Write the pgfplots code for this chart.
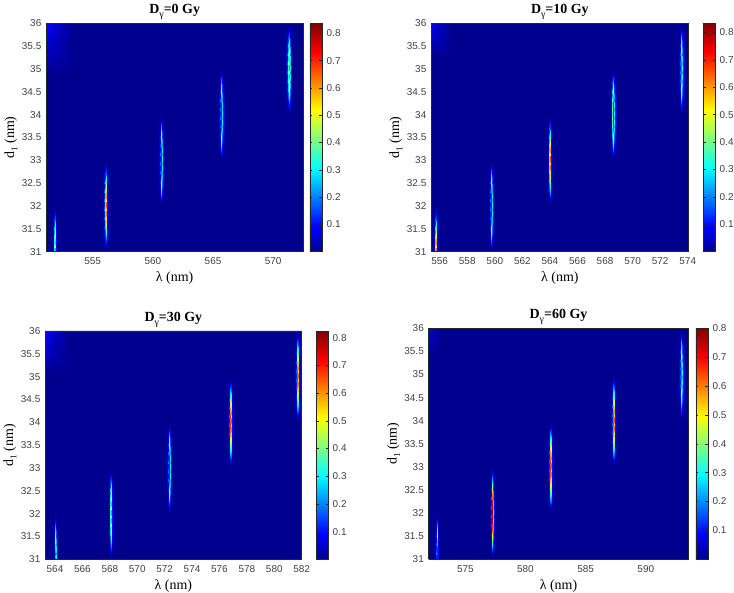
\documentclass[border=0pt]{standalone}
\usepackage{fontspec}
\setmainfont{Liberation Serif}
\newfontfamily\arial{Liberation Sans}
\usepackage{pgfplots}
\usepackage{pgfplotstable}
\pgfplotsset{compat=1.18}
\definecolor{bgblue}{rgb}{0,0,0.5625}
\definecolor{tickgray}{rgb}{0.25,0.25,0.25}
\definecolor{framegray}{rgb}{0.15,0.15,0.15}

% normalised peak profile (u: across wavelength, v: along d1, s: relative height)
\pgfplotstableread{
u v s
-1 -1 0
-0.5 -1 0
-0.25 -1 0
-0.1 -1 0
0 -1 0
0.1 -1 0
0.25 -1 0
0.5 -1 0
1 -1 0
-1 -0.9 0
-0.5 -0.9 0.011
-0.25 -0.9 0.032
-0.1 -0.9 0.066
0 -0.9 0.083
0.1 -0.9 0.066
0.25 -0.9 0.032
0.5 -0.9 0.011
1 -0.9 0
-1 -0.8 0
-0.5 -0.8 0.030
-0.25 -0.8 0.084
-0.1 -0.8 0.173
0 -0.8 0.216
0.1 -0.8 0.173
0.25 -0.8 0.084
0.5 -0.8 0.030
1 -0.8 0
-1 -0.6 0
-0.5 -0.6 0.071
-0.25 -0.6 0.200
-0.1 -0.6 0.410
0 -0.6 0.512
0.1 -0.6 0.410
0.25 -0.6 0.200
0.5 -0.6 0.071
1 -0.6 0
-1 -0.4 0
-0.5 -0.4 0.106
-0.25 -0.4 0.300
-0.1 -0.4 0.616
0 -0.4 0.770
0.1 -0.4 0.616
0.25 -0.4 0.300
0.5 -0.4 0.106
1 -0.4 0
-1 -0.2 0
-0.5 -0.2 0.130
-0.25 -0.2 0.367
-0.1 -0.2 0.753
0 -0.2 0.941
0.1 -0.2 0.753
0.25 -0.2 0.367
0.5 -0.2 0.130
1 -0.2 0
-1 0 0
-0.5 0 0.138
-0.25 0 0.390
-0.1 0 0.800
0 0 1
0.1 0 0.800
0.25 0 0.390
0.5 0 0.138
1 0 0
-1 0.2 0
-0.5 0.2 0.130
-0.25 0.2 0.367
-0.1 0.2 0.753
0 0.2 0.941
0.1 0.2 0.753
0.25 0.2 0.367
0.5 0.2 0.130
1 0.2 0
-1 0.4 0
-0.5 0.4 0.106
-0.25 0.4 0.300
-0.1 0.4 0.616
0 0.4 0.770
0.1 0.4 0.616
0.25 0.4 0.300
0.5 0.4 0.106
1 0.4 0
-1 0.6 0
-0.5 0.6 0.071
-0.25 0.6 0.200
-0.1 0.6 0.410
0 0.6 0.512
0.1 0.6 0.410
0.25 0.6 0.200
0.5 0.6 0.071
1 0.6 0
-1 0.8 0
-0.5 0.8 0.030
-0.25 0.8 0.084
-0.1 0.8 0.173
0 0.8 0.216
0.1 0.8 0.173
0.25 0.8 0.084
0.5 0.8 0.030
1 0.8 0
-1 0.9 0
-0.5 0.9 0.011
-0.25 0.9 0.032
-0.1 0.9 0.066
0 0.9 0.083
0.1 0.9 0.066
0.25 0.9 0.032
0.5 0.9 0.011
1 0.9 0
-1 1 0
-0.5 1 0
-0.25 1 0
-0.1 1 0
0 1 0
0.1 1 0
0.25 1 0
0.5 1 0
1 1 0
}\shape

% #1 wavelength of peak, #2 d1 of peak, #3 half width (nm), #4 peak height
\newcommand{\pk}[4]{\addplot3[surf, shader=interp, mesh/cols=9] table[x expr={#1+#3*\thisrow{u}}, y expr={#2+0.97*\thisrow{v}}, z expr={#4*\thisrow{s}}] {\shape};}

\pgfplotsset{
  colormap={mjet}{rgb(0cm)=(0,0,0.5625) rgb(7cm)=(0,0,1) rgb(23cm)=(0,1,1) rgb(39cm)=(1,1,0) rgb(55cm)=(1,0,0) rgb(63cm)=(0.5,0,0)},
  /pgf/number format/assume math mode=true,
  panel/.style={
    scale only axis, view={0}{90}, anchor=south west,
    colormap name=mjet,
    axis background/.style={fill=bgblue},
    axis line style={framegray, line width=0.5bp},
    ymin=31, ymax=36, ytick={31,31.5,32,32.5,33,33.5,34,34.5,35,35.5,36},
    zmin=0, zmax=1, ztick=\empty,
    scaled ticks=false,
    tick style={draw=none},
    tick label style={font=\arial\fontsize{10}{12}\selectfont, text=tickgray},
    yticklabel style={inner sep=0pt, xshift=-4.5bp},
    xticklabel style={inner sep=0pt, yshift=-6bp},
    xlabel={λ (nm)},
    ylabel={d\raisebox{-0.5ex}{\fontsize{9}{9}\selectfont 1} (nm)},
    label style={font=\fontsize{14}{16}\selectfont},
    xlabel style={at={(axis description cs:0.5,0)}, anchor=center, yshift=-26.5bp},
    ylabel style={at={([xshift=-35bp]axis description cs:0,0.5)}, anchor=center},
    title style={font=\bfseries\fontsize{14}{16}\selectfont, at={(axis description cs:0.5,1)}, anchor=base, yshift=4bp},
    point meta min=0,
    colorbar,
  },
  cbar/.style={colorbar style={
    at={(parent axis.north east)}, anchor=north west, xshift=#1,
    width=12bp,
    ytick={0.1,0.2,0.3,0.4,0.5,0.6,0.7,0.8},
    yticklabel style={inner sep=0pt, xshift=4.5bp, font=\arial\fontsize{10}{12}\selectfont, text=tickgray},
    axis line style={framegray, line width=0.5bp},
    tick style={framegray, line width=0.4bp},
    major tick length=2.5bp, tick align=inside,
  }},
}

\newcommand{\ptitle}[1]{D\raisebox{-4bp}{\fontsize{10}{10}\selectfont\mdseries γ}=#1 Gy}

\begin{document}
\begin{tikzpicture}
\path[use as bounding box] (0bp,0bp) rectangle (734bp,593bp);

% ---------------- a) 0 Gy
\begin{axis}[panel, at={(46bp,341.3bp)}, width=257.3bp, height=228.4bp,
  xmin=551.12, xmax=572.5, xtick={555,560,565,570},
  point meta max=0.837, cbar=-1.8bp,
  title={\ptitle{0}}]
\addplot3[surf, shader=interp, mesh/cols=3] coordinates {
(551.12,36,0.11) (551.8,36,0.06) (553.4,36,0)
(551.12,35.55,0.06) (551.8,35.55,0.035) (553.4,35.55,0)
(551.12,34.9,0) (551.8,34.9,0) (553.4,34.9,0)};
\pk{551.87}{31}{0.19}{0.83}
\pk{556.10}{32}{0.24}{0.83}
\pk{560.70}{33}{0.24}{0.83}
\pk{565.70}{34}{0.26}{0.83}
\pk{571.30}{35}{0.29}{0.83}
\node[font=\arial\fontsize{8.5}{10}\selectfont, text=black] at ([xshift=-34bp,yshift=-9bp]axis description cs:0,1) {a)};
\end{axis}

% ---------------- b) 10 Gy
\begin{axis}[panel, at={(431bp,341.3bp)}, width=257.7bp, height=228.4bp,
  xmin=555.37, xmax=574.07, xtick={556,558,560,562,564,566,568,570,572,574},
  point meta max=0.833, cbar=5.8bp,
  title={\ptitle{10}}]
\addplot3[surf, shader=interp, mesh/cols=3] coordinates {
(555.37,36,0.09) (555.8,36,0.05) (556.8,36,0)
(555.37,35.65,0.05) (555.8,35.65,0.03) (556.8,35.65,0)
(555.37,35.3,0) (555.8,35.3,0) (556.8,35.3,0)};
\pk{555.73}{31}{0.20}{0.83}
\pk{559.75}{32}{0.20}{0.83}
\pk{564.00}{33}{0.20}{0.83}
\pk{568.60}{34}{0.24}{0.83}
\pk{573.55}{35}{0.27}{0.83}
\node[font=\arial\fontsize{8.5}{10}\selectfont, text=black] at ([xshift=-35bp,yshift=-9bp]axis description cs:0,1) {b)};
\end{axis}

% ---------------- c) 30 Gy
\begin{axis}[panel, at={(45bp,33.7bp)}, width=256.7bp, height=228.3bp,
  xmin=563.27, xmax=582.0, xtick={564,566,568,570,572,574,576,578,580,582},
  point meta max=0.824, cbar=5.8bp,
  title={\ptitle{30}}]
\addplot3[surf, shader=interp, mesh/cols=3] coordinates {
(563.27,36,0.09) (563.8,36,0.05) (565.0,36,0)
(563.27,35.55,0.05) (563.8,35.55,0.03) (565.0,35.55,0)
(563.27,35.1,0) (563.8,35.1,0) (565.0,35.1,0)};
\pk{564.05}{31}{0.16}{0.82}
\pk{568.09}{32}{0.20}{0.82}
\pk{572.35}{33}{0.22}{0.82}
\pk{576.82}{34}{0.24}{0.82}
\pk{581.71}{35}{0.24}{0.82}
\node[font=\arial\fontsize{8.5}{10}\selectfont, text=black] at ([xshift=-35bp,yshift=-9bp]axis description cs:0,1) {c)};
\end{axis}

% ---------------- d) 60 Gy
\begin{axis}[panel, at={(428.5bp,33.7bp)}, width=260bp, height=231bp,
  xmin=571.94, xmax=593.55, xtick={575,580,585,590},
  point meta max=0.80, cbar=-1.2bp,
  title={\ptitle{60}}]
\addplot3[surf, shader=interp, mesh/cols=3] coordinates {
(571.94,36,0.05) (572.3,36,0.03) (573.0,36,0)
(571.94,35.7,0.03) (572.3,35.7,0.015) (573.0,35.7,0)
(571.94,35.4,0) (572.3,35.4,0) (573.0,35.4,0)};
\pk{572.67}{31}{0.18}{0.80}
\pk{577.25}{32}{0.22}{0.80}
\pk{582.10}{33}{0.28}{0.80}
\pk{587.33}{34}{0.28}{0.80}
\pk{592.97}{35}{0.31}{0.80}
\node[font=\arial\fontsize{8.5}{10}\selectfont, text=black] at ([xshift=-31bp,yshift=-10bp]axis description cs:0,1) {d)};
\end{axis}
\end{tikzpicture}
\end{document}
